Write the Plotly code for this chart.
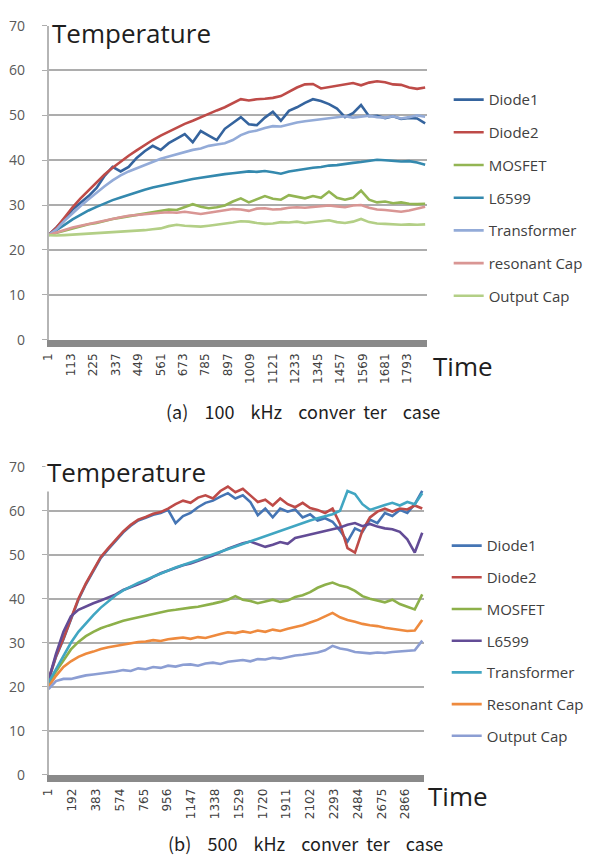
import plotly.graph_objects as go

# ---------------- (a) 100 kHz converter ----------------
t_a = list(range(1, 1882, 40))
ticks_a = ["1", "113", "225", "337", "449", "561", "673", "785", "897", "1009",
           "1121", "1233", "1345", "1457", "1569", "1681", "1793"]

diode1_a = [23.3, 25, 27, 29, 30.5, 32, 33.8, 36.5, 38.5, 37.5, 38.5, 40.5, 42, 43.2, 42.3, 43.8,
            44.8, 45.8, 44, 46.5, 45.5, 44.5, 47, 48.4, 49.6, 48, 47.8, 49.5, 50.8, 48.8, 51, 51.8,
            52.8, 53.6, 53.2, 52.5, 51.5, 49.6, 50.5, 52.3, 49.8, 49.9, 49.4, 49.8, 49.2, 49.4, 49.3, 48.2]
diode2_a = [23.3, 25, 27.2, 29.5, 31.5, 33.3, 35.2, 36.8, 38.3, 39.7, 41, 42.2, 43.4, 44.5, 45.5, 46.4,
            47.3, 48.1, 48.8, 49.6, 50.4, 51.1, 51.8, 52.7, 53.6, 53.3, 53.6, 53.7, 53.9, 54.3, 55.2, 56.2,
            56.9, 57, 56, 56.3, 56.7, 56.9, 57.2, 56.7, 57.3, 57.6, 57.4, 56.9, 56.8, 56.2, 55.9, 56.2]
mosfet_a = [23.3, 23.8, 24.3, 24.8, 25.3, 25.7, 26.0, 26.5, 26.9, 27.2, 27.5, 27.8, 28.1, 28.4, 28.7, 29.0,
            28.9, 29.5, 30.2, 29.6, 29.3, 29.5, 29.9, 30.8, 31.5, 30.6, 31.3, 32.0, 31.4, 31.2, 32.2, 31.8,
            31.5, 32.0, 31.6, 33.0, 31.6, 31.2, 31.6, 33.2, 31.2, 30.6, 30.8, 30.4, 30.6, 30.3, 30.2, 30.3]
l6599_a = [23.3, 24.4, 25.6, 26.8, 27.8, 28.8, 29.6, 30.4, 31.1, 31.7, 32.3, 32.9, 33.4, 33.9, 34.3, 34.7,
           35.1, 35.5, 35.8, 36.1, 36.4, 36.6, 36.9, 37.1, 37.3, 37.5, 37.4, 37.6, 37.3, 37.0, 37.5, 37.8,
           38.1, 38.3, 38.5, 38.8, 38.9, 39.2, 39.4, 39.6, 39.9, 40.1, 40.0, 39.9, 39.7, 39.8, 39.5, 39.0]
transformer_a = [23.3, 24.6, 26.5, 28.2, 29.8, 31.3, 32.8, 34.2, 35.5, 36.6, 37.5, 38.2, 38.8, 39.5, 40.3, 40.8,
                 41.3, 41.9, 42.3, 42.6, 43.2, 43.5, 43.8, 44.5, 45.6, 46.3, 46.6, 47.2, 47.6, 47.5, 48.0, 48.4,
                 48.7, 48.9, 49.2, 49.3, 49.6, 49.8, 49.5, 49.7, 49.9, 49.6, 49.5, 49.8, 49.3, 49.6, 50.0, 49.7]
rescap_a = [23.3, 23.9, 24.5, 25.0, 25.4, 25.8, 26.2, 26.6, 27.0, 27.3, 27.6, 27.8, 28.0, 28.1, 28.3, 28.4,
            28.3, 28.5, 28.2, 28.0, 28.3, 28.6, 28.9, 29.1, 29.0, 28.7, 29.2, 29.3, 29.0, 29.1, 29.4, 29.5,
            29.4, 29.6, 29.8, 29.9, 29.7, 29.5, 29.9, 30.0, 29.4, 29.0, 28.9, 28.7, 28.5, 28.8, 29.2, 29.6]
outcap_a = [23.3, 23.2, 23.3, 23.4, 23.5, 23.6, 23.7, 23.8, 23.9, 24.0, 24.1, 24.3, 24.4, 24.6, 24.8, 25.3,
            25.6, 25.4, 25.3, 25.2, 25.4, 25.6, 25.9, 26.1, 26.4, 26.3, 26.0, 25.8, 25.9, 26.2, 26.1, 26.3,
            26.0, 26.2, 26.4, 26.6, 26.2, 26.0, 26.3, 26.9, 26.2, 25.9, 25.8, 25.7, 25.6, 25.7, 25.6, 25.7]

names_a = ["Diode1", "Diode2", "MOSFET", "L6599", "Transformer", "resonant Cap", "Output Cap"]
series_a = [diode1_a, diode2_a, mosfet_a, l6599_a, transformer_a, rescap_a, outcap_a]
colors_a = ["#35649E", "#BE4B48", "#93B553", "#3489AE", "#93ABD8", "#D99694", "#B3CF86"]

# ---------------- (b) 500 kHz converter ----------------
t_b = list(range(1, 3002, 60))
ticks_b = ["1", "192", "383", "574", "765", "956", "1147", "1338", "1529", "1720",
           "1911", "2102", "2293", "2484", "2675", "2866"]

diode1_b = [21.5, 26.8, 30.8, 35.3, 39.8, 43.3, 46.3, 49.3, 51.3, 53.3, 55.1, 56.6, 57.8, 58.4, 59.1, 59.5,
            60.2, 57.2, 58.8, 59.5, 60.8, 61.8, 62.3, 63.2, 64.0, 62.8, 63.5, 62.0, 59.0, 60.5, 58.5, 60.5,
            59.8, 60.3, 58.5, 59.2, 57.8, 58.3, 57.5, 55.5, 53.0, 56.0, 55.2, 58.0, 57.2, 59.5, 58.8, 60.2,
            59.5, 61.5, 64.5]
diode2_b = [21.5, 27, 31, 35.5, 40, 43.5, 46.5, 49.5, 51.5, 53.5, 55.3, 56.8, 58, 58.6, 59.3, 59.7,
            60.5, 61.5, 62.3, 61.8, 63, 63.5, 62.8, 64.5, 65.5, 64.2, 65, 63.5, 62, 62.5, 61.2, 62.8,
            61.5, 60.8, 61.8, 60.6, 60.2, 59.5, 60.5, 57, 51.5, 50.5, 55.5, 58.5, 59.8, 60.5, 59.8, 60.5,
            60.3, 61.2, 60.5]
mosfet_b = [20.5, 23.5, 26, 28.5, 30.2, 31.5, 32.5, 33.3, 33.9, 34.5, 35.0, 35.4, 35.8, 36.1, 36.5, 36.9,
            37.3, 37.5, 37.8, 38.0, 38.2, 38.5, 38.9, 39.3, 39.8, 40.6, 39.8, 39.5, 39.0, 39.4, 39.8, 39.3,
            39.6, 40.4, 40.8, 41.5, 42.5, 43.2, 43.7, 43.0, 42.6, 41.8, 40.6, 40.0, 39.6, 39.2, 39.8, 38.8,
            38.2, 37.6, 41.0]
l6599_b = [21.5, 27.5, 32.5, 36, 37.5, 38.3, 39, 39.6, 40.3, 41.0, 42.0, 42.6, 43.3, 44.0, 45.0, 45.8,
           46.4, 47.0, 47.6, 48.0, 48.6, 49.3, 49.8, 50.6, 51.4, 52.0, 52.6, 53.0, 52.4, 51.8, 52.3, 52.9,
           52.5, 53.8, 54.2, 54.6, 55.0, 55.3, 55.8, 56.2, 56.8, 57.2, 56.5, 57.0, 56.4, 56.0, 55.8, 55.2,
           53.5, 50.5, 55.0]
transformer_b = [21, 24, 27, 30, 32.5, 34.5, 36.3, 38, 39.5, 40.8, 41.9, 42.8, 43.6, 44.3, 45.0, 45.8,
                 46.5, 47.1, 47.7, 48.2, 48.8, 49.5, 50.1, 50.6, 51.2, 51.9, 52.5, 53.1, 53.7, 54.3, 54.9, 55.5,
                 56.0, 56.6, 57.3, 57.8, 58.3, 58.8, 59.2, 60.0, 64.5, 63.8, 61.5, 60.2, 60.8, 61.3, 61.8, 61.2,
                 62.0, 61.5, 64.0]
rescap_b = [20, 22.5, 24.5, 25.8, 26.8, 27.5, 28.0, 28.6, 29.0, 29.3, 29.6, 29.9, 30.2, 30.3, 30.6, 30.4,
            30.8, 31.0, 31.2, 30.9, 31.3, 31.1, 31.6, 32.0, 32.4, 32.2, 32.6, 32.3, 32.8, 32.5, 33.0, 32.7,
            33.2, 33.6, 34.0, 34.6, 35.2, 36.0, 36.8, 35.8, 35.2, 34.8, 34.3, 34.0, 33.8, 33.4, 33.2, 33.0,
            32.7, 32.8, 35.2]
outcap_b = [19.5, 21.3, 21.8, 21.8, 22.2, 22.6, 22.8, 23.0, 23.3, 23.5, 23.8, 23.6, 24.2, 24.0, 24.5, 24.3,
            24.8, 24.6, 25.0, 25.1, 24.8, 25.3, 25.5, 25.2, 25.7, 25.9, 26.1, 25.8, 26.3, 26.2, 26.6, 26.4,
            26.8, 27.1, 27.3, 27.5, 27.8, 28.3, 29.3, 28.7, 28.4, 27.9, 27.8, 27.6, 27.8, 27.7, 27.9, 28.0,
            28.1, 28.3, 30.5]

names_b = ["Diode1", "Diode2", "MOSFET", "L6599", "Transformer", "Resonant Cap", "Output Cap"]
series_b = [diode1_b, diode2_b, mosfet_b, l6599_b, transformer_b, rescap_b, outcap_b]
colors_b = ["#4575B4", "#BE4B48", "#8DB04A", "#634C96", "#41A6C2", "#EE8A3E", "#8C9ED3"]

W, H = 589, 866


def px(v):
    return v / W


def py(v):
    return 1 - v / H


fig = go.Figure()

for name, ys, col in zip(names_a, series_a, colors_a):
    fig.add_trace(go.Scatter(x=t_a, y=ys, mode="lines", name=name,
                             line=dict(color=col, width=2.6),
                             legend="legend", legendgroup="a_" + name,
                             xaxis="x", yaxis="y"))

for name, ys, col in zip(names_b, series_b, colors_b):
    fig.add_trace(go.Scatter(x=t_b, y=ys, mode="lines", name=name,
                             line=dict(color=col, width=2.6),
                             legend="legend2", legendgroup="b_" + name,
                             xaxis="x2", yaxis="y2"))

grid = "#ADADAD"
xtick_font = dict(family="DejaVu Sans", size=12, color="#404040")
ytick_font = dict(family="Open Sans", size=14, color="#595959")


def xaxis(domain, rng, ticks, anchor):
    return dict(domain=domain, range=rng, anchor=anchor,
                tickmode="array", tickvals=[int(s) for s in ticks], ticktext=ticks,
                tickangle=-90, tickfont=xtick_font, ticks="",
                showgrid=False, zeroline=False,
                showline=True, linecolor="#8A8A8A", linewidth=7,
                ticklabelstandoff=2)


def yaxis(domain, anchor):
    return dict(domain=domain, range=[0, 70], dtick=10, anchor=anchor,
                tickfont=ytick_font, ticks="outside", ticklen=5, tickcolor=grid,
                showgrid=True, gridcolor=grid, gridwidth=1.6,
                showline=True, linecolor="#B5B5B5", linewidth=1.5,
                zeroline=False, ticklabelstandoff=14)


legend_common = dict(xanchor="left", yanchor="top", bgcolor="rgba(0,0,0,0)",
                     font=dict(family="Open Sans", size=15, color="#404040"),
                     itemwidth=30, traceorder="grouped")

caption_font = dict(family="Noto Sans CJK KR", size=18, color="#1E1E1E")
sp = "\u00a0" * 4

fig.update_layout(
    width=W, height=H,
    margin=dict(l=0, r=0, t=0, b=0, pad=0),
    paper_bgcolor="white", plot_bgcolor="white",
    xaxis=xaxis([px(42), px(425)], [1, 1890], ticks_a, "y"),
    yaxis=yaxis([py(337), py(16)], "x"),
    xaxis2=xaxis([px(42), px(422)], [1, 3015], ticks_b, "y2"),
    yaxis2=yaxis([py(782), py(467)], "x2"),
    legend=dict(x=px(447), y=py(75), tracegroupgap=10.2, **legend_common),
    legend2=dict(x=px(445), y=py(531), tracegroupgap=9.2, **legend_common),
    annotations=[
        dict(text="Temperature", x=px(44), y=py(24), xref="paper", yref="paper",
             xanchor="left", yanchor="middle", showarrow=False, bgcolor="white",
             font=dict(family="Open Sans", size=26, color="#1E1E1E")),
        dict(text="Temperature", x=px(38), y=py(472), xref="paper", yref="paper",
             xanchor="left", yanchor="middle", showarrow=False, bgcolor="white",
             font=dict(family="Open Sans", size=26, color="#1E1E1E")),
        dict(text="Time", x=px(429), y=py(364), xref="paper", yref="paper",
             xanchor="left", yanchor="middle", showarrow=False,
             font=dict(family="Open Sans", size=26, color="#1E1E1E")),
        dict(text="Time", x=px(424), y=py(804), xref="paper", yref="paper",
             xanchor="left", yanchor="middle", showarrow=False,
             font=dict(family="Open Sans", size=26, color="#1E1E1E")),
        dict(text="(a)" + sp + "100" + sp + "kHz" + sp + "conver\u00a0\u00a0ter" + sp + "case",
             x=px(300), y=py(410), xref="paper", yref="paper",
             xanchor="center", yanchor="middle", showarrow=False, font=caption_font),
        dict(text="(b)" + sp + "500" + sp + "kHz" + sp + "conver\u00a0\u00a0ter" + sp + "case",
             x=px(302), y=py(852), xref="paper", yref="paper",
             xanchor="center", yanchor="middle", showarrow=False, font=caption_font),
    ],
)

fig.write_html("out.html")
